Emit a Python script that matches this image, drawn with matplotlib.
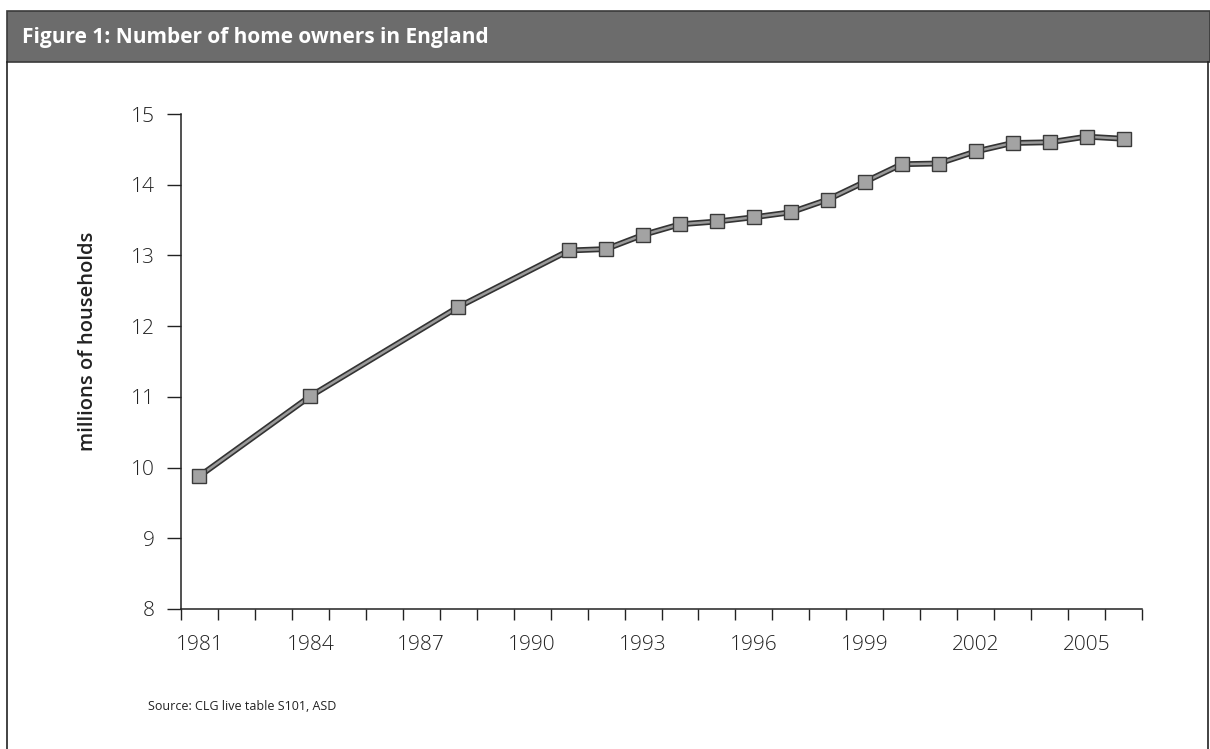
import numpy as np
import matplotlib
matplotlib.use('Agg')
import matplotlib.pyplot as plt
from matplotlib.patches import Rectangle
from matplotlib.lines import Line2D
from matplotlib.ticker import FixedLocator, NullFormatter

# data (millions of households)
years = [1981, 1984, 1988, 1991, 1992, 1993, 1994, 1995, 1996, 1997,
         1998, 1999, 2000, 2001, 2002, 2003, 2004, 2005, 2006]
owners = [9.88, 11.01, 12.27, 13.07, 13.09, 13.29, 13.44, 13.48, 13.54, 13.61,
          13.79, 14.04, 14.29, 14.30, 14.47, 14.59, 14.60, 14.68, 14.65]
label_years = [1981, 1984, 1987, 1990, 1993, 1996, 1999, 2002, 2005]
y_ticks = [8, 9, 10, 11, 12, 13, 14, 15]

plt.rcParams['font.family'] = ['Open Sans', 'DejaVu Sans']

W, H = 1210, 749
fig = plt.figure(figsize=(W / 100, H / 100), dpi=100)

# header bar and frame
fig.patches.append(Rectangle((7 / W, 1 - 62 / H), (W - 7) / W, 51 / H,
                             transform=fig.transFigure, facecolor='#6c6c6c',
                             edgecolor='#3a3a3a', linewidth=1.2))
fig.text(22 / W, 1 - 37 / H, 'Figure 1: Number of home owners in England',
         color='white', fontsize=15, fontweight='bold', va='center', ha='left')
fig.lines.append(Line2D([7 / W, 7 / W], [0, 1 - 62 / H], transform=fig.transFigure,
                        color='#222222', linewidth=1.2))
fig.lines.append(Line2D([1208 / W, 1208 / W], [0, 1 - 62 / H], transform=fig.transFigure,
                        color='#222222', linewidth=1.2))

ax = fig.add_axes([181 / W, 1 - 609 / H, (1142 - 181) / W, (609 - 114) / H])

# line with dark outline, square markers
ax.plot(years, owners, color='#333333', linewidth=4.2, zorder=2, solid_joinstyle='miter')
ax.plot(years, owners, color='#9a9a9a', linewidth=1.8, zorder=3,
        marker='s', markersize=10.5, markerfacecolor='#a3a3a3',
        markeredgecolor='#3a3a3a', markeredgewidth=1.0)

ax.set_xlim(1980.5, 2006.5)
ax.set_ylim(8, 15)

ax.xaxis.set_major_locator(FixedLocator(label_years))
ax.xaxis.set_minor_locator(FixedLocator(np.arange(1980.5, 2007, 1.0)))
ax.xaxis.set_minor_formatter(NullFormatter())
ax.tick_params(axis='x', which='major', length=0, pad=19, labelsize=15, labelcolor='#222222')
ax.tick_params(axis='x', which='minor', length=8, width=1.0, direction='out', color='#222222')
ax.set_yticks(y_ticks)
ax.tick_params(axis='y', length=10, width=1.0, direction='out', pad=9,
               labelsize=15, labelcolor='#222222', color='#222222')
for lbl in ax.get_xticklabels() + ax.get_yticklabels():
    lbl.set_fontweight('light')

for s in ['top', 'right']:
    ax.spines[s].set_visible(False)
for s in ['left', 'bottom']:
    ax.spines[s].set_linewidth(1.1)
    ax.spines[s].set_color('#222222')

fig.text(88 / W, 1 - 341 / H, 'millions of households', rotation=90,
         fontsize=14.5, fontweight='semibold', color='#222222', ha='center', va='center')

fig.text(148 / W, 1 - 706 / H, 'Source: CLG live table S101, ASD',
         fontsize=9, color='#222222', ha='left', va='center')

fig.savefig('out.png', dpi=100)
